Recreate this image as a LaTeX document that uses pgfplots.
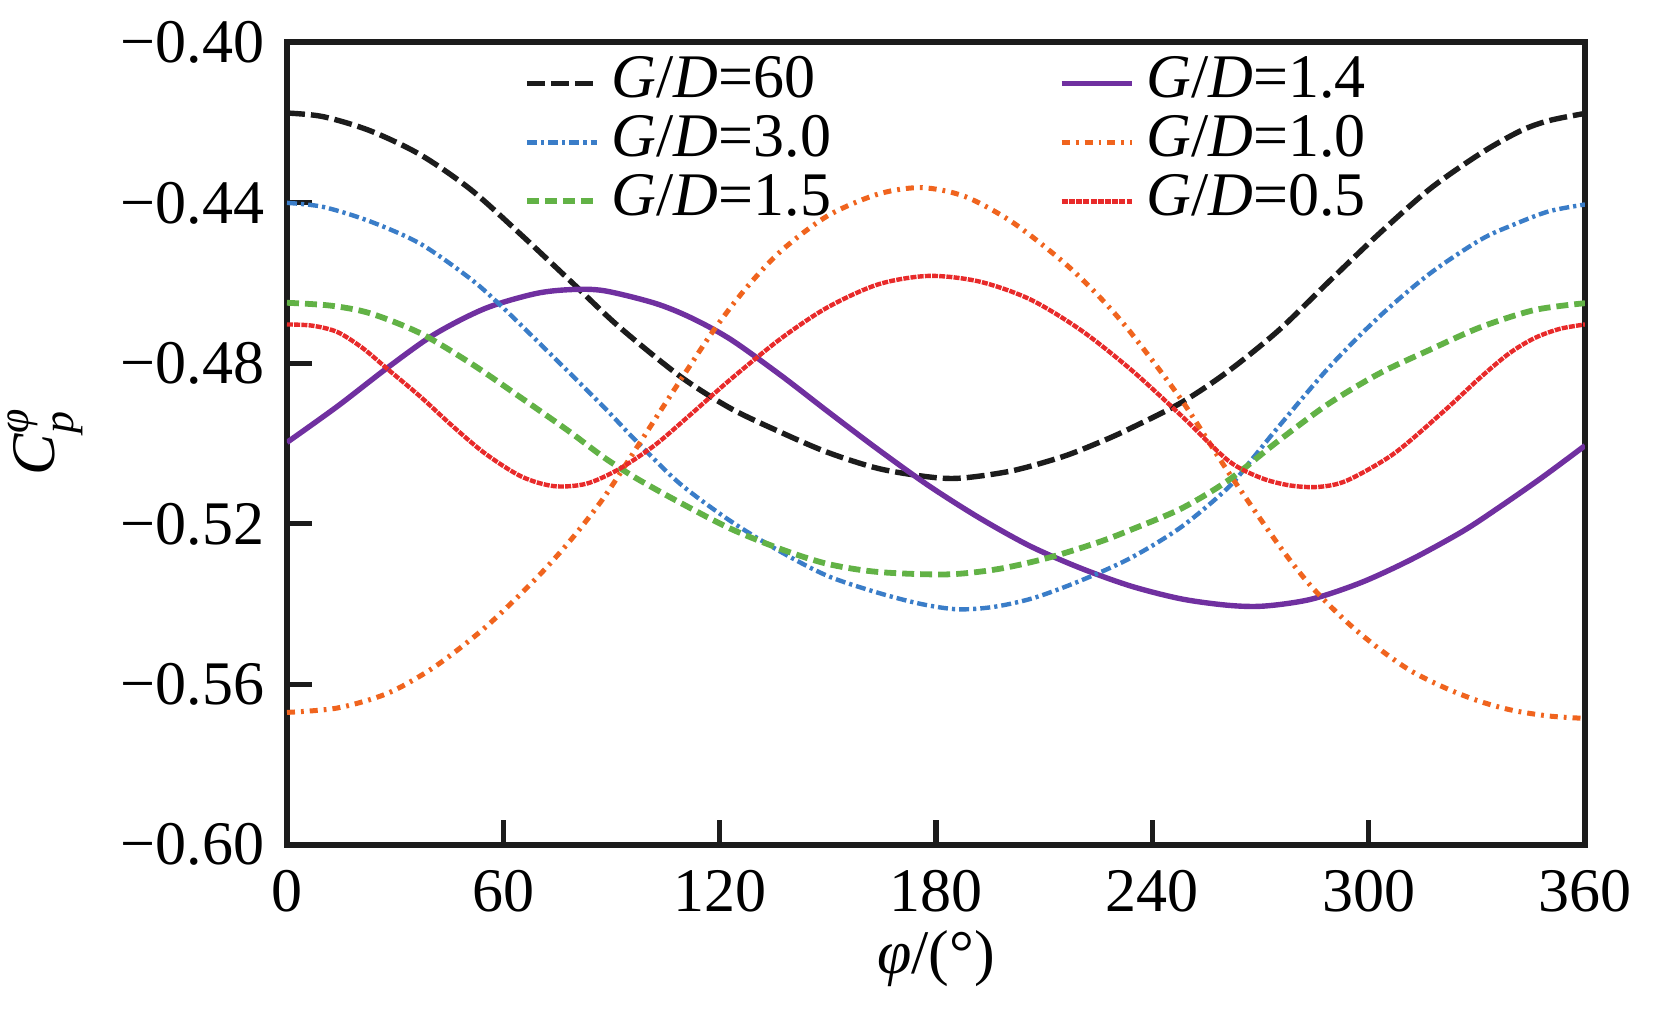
\documentclass[border=0pt]{standalone}
\usepackage{fontspec}
\setmainfont{Liberation Serif}
\usepackage{pgfplots}
\pgfplotsset{compat=1.18}
\definecolor{cblack}{RGB}{28,28,28}
\definecolor{cblue}{RGB}{58,125,200}
\definecolor{cgreen}{RGB}{98,178,70}
\definecolor{cpurple}{RGB}{112,48,160}
\definecolor{corange}{RGB}{240,100,30}
\definecolor{cred}{RGB}{232,42,42}
\newcommand{\ff}{\fontsize{15.5}{18}\selectfont}
\begin{document}
\ff
\begin{tikzpicture}[font=\ff]
\useasboundingbox (-71.75pt,-41.25pt) rectangle (344pt,211.2pt);
\begin{axis}[
  scale only axis, width=324.5pt, height=200.6pt,
  xmin=0, xmax=360, ymin=-0.6, ymax=-0.4,
  axis line style={line width=1.5pt, cblack},
  tick align=inside, xtick pos=bottom, ytick pos=left,
  major tick length=6.25pt,
  every tick/.style={line width=1.3pt, cblack},
  xtick={0,60,120,180,240,300,360},
  xticklabels={0,60,120,180,240,300,360},
  ytick={-0.60,-0.56,-0.52,-0.48,-0.44,-0.40},
  yticklabels={−0.60,−0.56,−0.52,−0.48,−0.44,−0.40},
  xticklabel style={font=\ff, inner sep=0pt, anchor=north, yshift=-6.25pt},
  yticklabel style={font=\ff, inner sep=0pt, anchor=east, xshift=-5.5pt},
  xlabel={\textit{φ}/(°)},
  xlabel style={font=\ff, at={(axis description cs:0.5,-0.142)}, anchor=center},
  ylabel={\textit{C}\rlap{\raisebox{0.42em}{\fontsize{11}{12}\selectfont\itshape φ}}\raisebox{-0.3em}{\fontsize{11}{12}\selectfont\itshape p}},
  ylabel style={font=\ff, at={(axis description cs:-0.186,0.5)}, anchor=center},
  legend columns=2,
  legend cell align=left,
  legend image code/.code={\draw[#1] (0pt,0pt) -- (17.5pt,0pt);},
  legend style={draw=none, fill=none, font=\ff,
    at={(axis description cs:0.1826,0.9858)}, anchor=north west,
    inner sep=0pt, outer sep=0pt,
    nodes={inner sep=0pt, text height=11pt, text depth=3.75pt},
    row sep=0pt, column sep=3pt,
    /tikz/column 2/.style={column sep=57pt}},
  no markers,
]
% G/D = 60
\addplot[cblack, line width=1.35pt, dash pattern=on 4.5pt off 1.5pt, smooth] coordinates {
(0,-0.4176) (10,-0.4185) (23,-0.4220) (37,-0.4280) (51,-0.4367) (65,-0.4480)
(79,-0.4598) (92,-0.4708) (109,-0.4832) (123,-0.4912) (137,-0.4972) (150,-0.5022)
(164,-0.5062) (178,-0.5083) (187,-0.5086) (201,-0.5068) (215,-0.5033) (225,-0.4998)
(233,-0.4966) (248,-0.4898) (261,-0.4820) (275,-0.4718) (289,-0.4596) (303,-0.4476)
(317,-0.4365) (331,-0.4277) (342,-0.4221) (350,-0.4195) (360,-0.4177)};
\addlegendentry{\textit{G}/\textit{D}=60}
% G/D = 1.4
\addplot[cpurple, line width=1.35pt, smooth] coordinates {
(0,-0.4997) (14,-0.4907) (28,-0.4810) (41,-0.4727) (55,-0.4663) (69,-0.4626)
(79,-0.4616) (88,-0.4619) (102,-0.4650) (112,-0.4686) (123,-0.4740) (137,-0.4830)
(150,-0.4920) (164,-0.5015) (178,-0.5105) (192,-0.5185) (206,-0.5255) (220,-0.5310)
(234,-0.5355) (248,-0.5387) (261,-0.5403) (271,-0.5405) (284,-0.5388) (298,-0.5346)
(312,-0.5288) (326,-0.5219) (336,-0.5160) (348,-0.5085) (360,-0.5005)};
\addlegendentry{\textit{G}/\textit{D}=1.4}
% G/D = 3.0
\addplot[cblue, line width=1.1pt, dash pattern=on 2.5pt off 1pt on 0.8pt off 1pt, smooth] coordinates {
(0,-0.4400) (10,-0.4410) (23,-0.4446) (37,-0.4502) (51,-0.4590) (60,-0.4662) (74,-0.4785)
(88,-0.4910) (97,-0.4995) (109,-0.5100) (123,-0.5193) (137,-0.5270) (150,-0.5330)
(164,-0.5372) (176,-0.5400) (186,-0.5413) (196,-0.5407) (207,-0.5385) (220,-0.5342)
(234,-0.5285) (248,-0.5208) (261,-0.5110) (268,-0.5035) (275,-0.4958) (289,-0.4810)
(303,-0.4683) (317,-0.4576) (331,-0.4492) (340,-0.4455) (350,-0.4421) (360,-0.4404)};
\addlegendentry{\textit{G}/\textit{D}=3.0}
% G/D = 1.0
\addplot[corange, line width=1.25pt, dash pattern=on 2pt off 1.5pt on 0.7pt off 1.5pt, smooth] coordinates {
(0,-0.5670) (14,-0.5659) (28,-0.5622) (41,-0.5556) (55,-0.5458) (69,-0.5337)
(79,-0.5237) (88,-0.5133) (97,-0.5010) (106,-0.4885) (118,-0.4722) (127,-0.4616)
(137,-0.4520) (150,-0.4432) (164,-0.4378) (176,-0.4362) (188,-0.4384) (201,-0.4447)
(215,-0.4545) (225,-0.4631) (234,-0.4723) (248,-0.4890) (261,-0.5070) (275,-0.5252)
(284,-0.5355) (294,-0.5445) (303,-0.5512) (312,-0.5568) (322,-0.5612) (331,-0.5643)
(340,-0.5665) (350,-0.5679) (360,-0.5685)};
\addlegendentry{\textit{G}/\textit{D}=1.0}
% G/D = 1.5
\addplot[cgreen, line width=1.45pt, dash pattern=on 3pt off 1.5pt, smooth] coordinates {
(0,-0.4649) (12,-0.4656) (23,-0.4675) (37,-0.4725) (51,-0.4800) (64,-0.4880) (78,-0.4968)
(88,-0.5035) (97,-0.5087) (109,-0.5147) (123,-0.5212) (137,-0.5263) (150,-0.5300)
(164,-0.5320) (183,-0.5326) (197,-0.5313) (211,-0.5285) (225,-0.5246) (234,-0.5215)
(248,-0.5162) (261,-0.5092) (275,-0.4993) (289,-0.4900) (303,-0.4825) (317,-0.4766)
(331,-0.4710) (346,-0.4667) (360,-0.4650)};
\addlegendentry{\textit{G}/\textit{D}=1.5}
% G/D = 0.5
\addplot[cred, line width=1.1pt, dash pattern=on 1.5pt off 0.3pt, smooth] coordinates {
(0,-0.4703) (7,-0.4706) (14,-0.4722) (21,-0.4762) (28,-0.4815) (37,-0.4883)
(46,-0.4957) (55,-0.5025) (65,-0.5082) (74,-0.5106) (83,-0.5100) (92,-0.5064)
(102,-0.5004) (112,-0.4927) (123,-0.4840) (137,-0.4738) (150,-0.4660) (164,-0.4603)
(178,-0.4582) (192,-0.4596) (206,-0.4640) (220,-0.4716) (234,-0.4815) (248,-0.4930)
(261,-0.5042) (270,-0.5085) (278,-0.5104) (286,-0.5108) (294,-0.5092) (307,-0.5025)
(321,-0.4918) (331,-0.4835) (339,-0.4775) (346,-0.4737) (353,-0.4714) (360,-0.4703)};
\addlegendentry{\textit{G}/\textit{D}=0.5}
\end{axis}
\end{tikzpicture}
\end{document}
